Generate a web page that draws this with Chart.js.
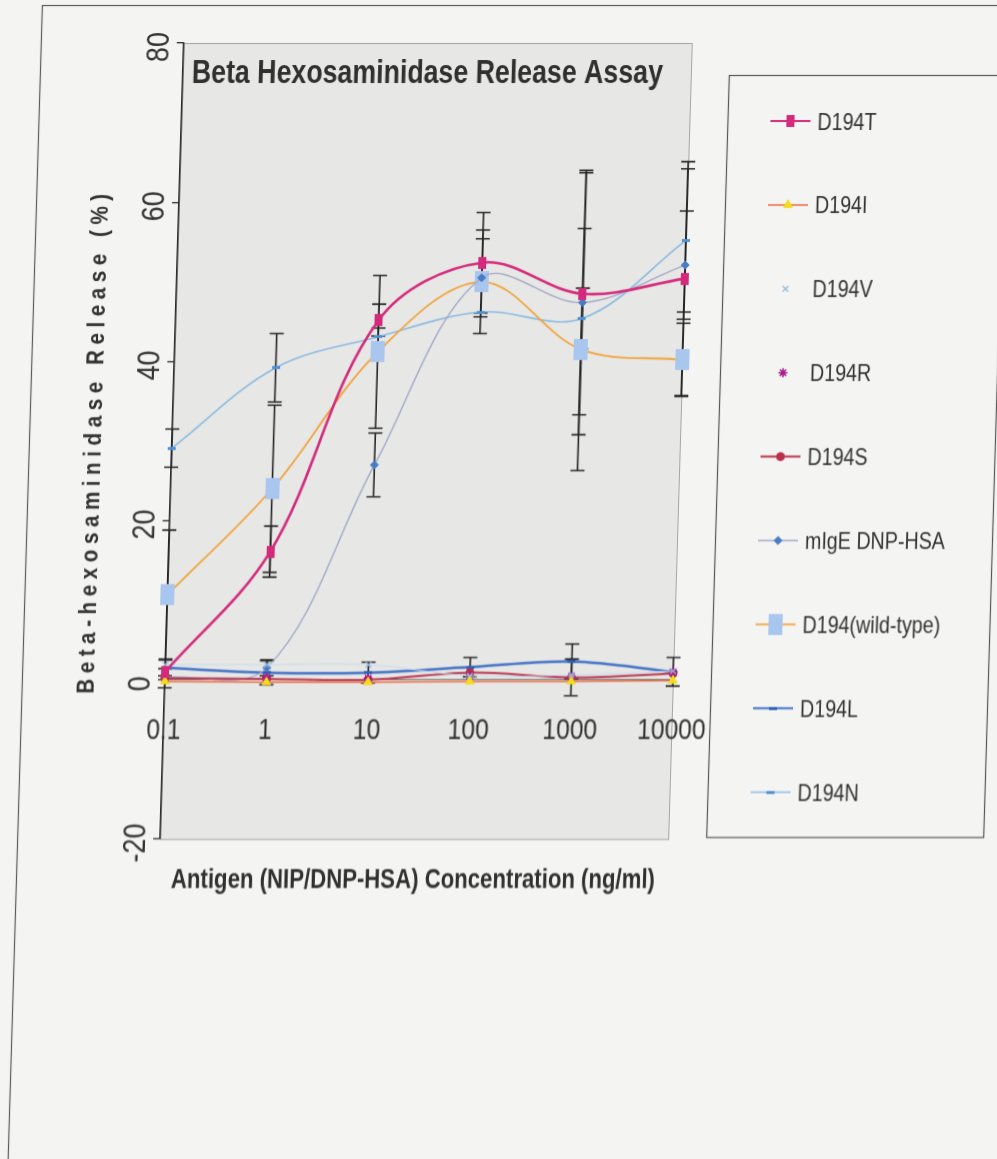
<!DOCTYPE html>
<html><head><meta charset="utf-8">
<script src="https://cdn.jsdelivr.net/npm/chart.js@4/dist/chart.umd.min.js"></script>
<style>
html,body{margin:0;padding:0;background:#f4f4f2;overflow:hidden;}
#wrap{width:997px;height:1159px;overflow:hidden;}
canvas{display:block;transform:skewX(-1.7deg);transform-origin:498px 440px;}
</style></head><body>
<div id="wrap"><canvas id="c" width="997" height="1159"></canvas></div>
<script>
// ---- data ----
const concentrations = [0.1, 1, 10, 100, 1000, 10000];
const xTickLabels = ['0.1', '1', '10', '100', '1000', '10000'];
const yTickValues = [80, 60, 40, 20, 0, -20];
const yTickLabels = ['80', '60', '40', '20', '0', '-20'];
const seriesNames = ['D194T', 'D194I', 'D194V', 'D194R', 'D194S', 'mIgE DNP-HSA', 'D194(wild-type)', 'D194L', 'D194N'];
const chartTitle = 'Beta Hexosaminidase Release Assay';
const xTitle = 'Antigen (NIP/DNP-HSA) Concentration (ng/ml)';
const yTitle = 'Beta-hexosaminidase Release (%)';

const d194T    = [1.0, 16.1, 45.2, 52.4, 48.5, 50.4];
const d194I    = [-0.2, -0.3, -0.3, -0.2, -0.2, -0.1];
const d194V    = [1.9, 1.9, 1.9, 0.5, 0.6, 1.1];
const d194R    = [0.6, 0.3, 0.2, 0.5, 0.4, 1.0];
const d194S    = [0.2, 0.1, 0.0, 0.9, 0.3, 0.8];
const mIgE     = [0.3, 1.5, 27.0, 50.5, 47.4, 52.1];
const wildType = [10.7, 24.0, 41.2, 50.0, 41.5, 40.2];
const d194L    = [1.5, 0.9, 0.9, 1.6, 2.3, 1.0];
const d194N    = [29.1, 39.2, 43.1, 46.2, 45.4, 55.2];

// error bars (+/-)
const errT   = [0, 3.2, 2.0, 6.3, 15.2, 14.7];
const errWT  = [8.1, 10.5, 9.6, 6.5, 15.2, 4.6];
const errIgE = [0, 1.0, 4.0, 4.9, 16.6, 6.8];
const errN   = [2.4, 4.3, 1.1, 0, 3.8, 9.0];
const errL   = [1.0, 1.5, 1.3, 1.2, 2.2, 1.8];
const errS   = [1.2, 0, 0, 0, 2.3, 0];

// ---- styles ----
function rectImg(w, h, fill) {
  const c = document.createElement('canvas');
  c.width = w; c.height = h;
  const g = c.getContext('2d');
  g.fillStyle = fill; g.fillRect(0, 0, w, h);
  return c;
}
const pts = (arr) => concentrations.map((x, i) => ({x: x, y: arr[i]}));

function ds(label, arr, o) {
  return Object.assign({
    label: label, data: pts(arr), clip: false, tension: 0.35,
    fill: false, pointRadius: 4, pointBorderWidth: 1, pointHoverRadius: 4
  }, o);
}

const datasets = [
  ds(seriesNames[0], d194T, {borderColor: '#d42a7c', borderWidth: 2.6, pointStyle: rectImg(8, 12, '#d42a7c'), pointBackgroundColor: '#d42a7c', pointBorderColor: '#d42a7c', err: errT}),
  ds(seriesNames[1], d194I, {borderColor: '#ee6a3c', borderWidth: 1.5, pointStyle: 'triangle', pointRadius: 5, pointBackgroundColor: '#f4dc1c', pointBorderColor: '#f4dc1c'}),
  ds(seriesNames[2], d194V, {borderColor: '#c9dcef', borderWidth: 1, pointStyle: 'crossRot', pointRadius: 4, pointBorderWidth: 1.3, pointBackgroundColor: '#8fb8dc', pointBorderColor: '#8fb8dc', legendLine: false}),
  ds(seriesNames[3], d194R, {showLine: false, borderColor: '#a8208c', pointStyle: 'star', pointRadius: 4.5, pointBorderWidth: 1.6, pointBackgroundColor: '#a8208c', pointBorderColor: '#a8208c', legendLine: false}),
  ds(seriesNames[4], d194S, {borderColor: '#b8304c', borderWidth: 2, pointStyle: 'circle', pointRadius: 4, pointBackgroundColor: '#b8304c', pointBorderColor: '#b8304c', err: errS}),
  ds(seriesNames[5], mIgE, {borderColor: '#a3a9c9', borderWidth: 1.4, pointStyle: 'rectRot', pointRadius: 4, pointBackgroundColor: '#4a7cc4', pointBorderColor: '#4a7cc4', err: errIgE}),
  ds(seriesNames[6], wildType, {borderColor: '#f2a43a', borderWidth: 1.8, pointStyle: rectImg(14, 21, '#a9c6ee'), pointBackgroundColor: '#a9c6ee', pointBorderColor: '#a9c6ee', err: errWT}),
  ds(seriesNames[7], d194L, {borderColor: '#3f6fc6', borderWidth: 2.5, pointStyle: rectImg(8, 3, '#2f5fb6'), pointBackgroundColor: '#2f5fb6', pointBorderColor: '#2f5fb6', err: errL}),
  ds(seriesNames[8], d194N, {borderColor: '#8cbbe2', borderWidth: 1.6, pointStyle: rectImg(8, 3, '#4f92d2'), pointBackgroundColor: '#4f92d2', pointBorderColor: '#4f92d2', err: errN})
];

// ---- helpers ----
const NARROW = 0.82;
function drawText(ctx, text, x, y, o) {
  ctx.save();
  ctx.font = o.font;
  ctx.fillStyle = o.color || '#333';
  ctx.textBaseline = 'alphabetic';
  ctx.textAlign = 'left';
  if ('letterSpacing' in ctx) ctx.letterSpacing = (o.spacing || 0) + 'px';
  let w = ctx.measureText(text).width;
  let sx = o.hscale || 1;
  if (o.targetWidth) sx = o.targetWidth / w;
  ctx.translate(x, y);
  if (o.rotate) ctx.rotate(o.rotate);
  ctx.scale(sx, 1);
  const off = o.align === 'center' ? -w / 2 : (o.align === 'right' ? -w : 0);
  ctx.fillText(text, off, o.dy || 0);
  ctx.restore();
}

function drawMarker(ctx, d, x, y) {
  ctx.save();
  ctx.fillStyle = d.pointBackgroundColor;
  ctx.strokeStyle = d.pointBorderColor;
  ctx.lineWidth = d.pointBorderWidth || 1;
  if (Chart.helpers && Chart.helpers.drawPoint) {
    Chart.helpers.drawPoint(ctx, {pointStyle: d.pointStyle, radius: d.pointRadius, borderWidth: d.pointBorderWidth || 1, rotation: 0}, x, y);
  } else if (d.pointStyle instanceof HTMLCanvasElement) {
    ctx.drawImage(d.pointStyle, x - d.pointStyle.width / 2, y - d.pointStyle.height / 2);
  } else {
    ctx.beginPath(); ctx.arc(x, y, d.pointRadius, 0, Math.PI * 2); ctx.fill();
  }
  ctx.restore();
}

// ---- plugins ----
const backgroundPlugin = {
  id: 'bg',
  beforeDraw(chart) {
    const ctx = chart.ctx, a = chart.chartArea;
    ctx.save();
    ctx.fillStyle = '#f4f4f2';
    ctx.fillRect(0, 0, chart.width, chart.height);
    // outer frame
    ctx.strokeStyle = '#5a5a5a'; ctx.lineWidth = 1.2;
    ctx.strokeRect(29.5, 5.5, 1000, 1200);
    // plot area
    ctx.fillStyle = '#e7e7e5';
    ctx.fillRect(a.left, a.top, a.right - a.left, a.bottom - a.top);
    ctx.strokeStyle = '#a6a6a6'; ctx.lineWidth = 1;
    ctx.strokeRect(a.left + 0.5, a.top + 0.5, a.right - a.left, a.bottom - a.top);
    ctx.restore();
  }
};

const errorBarPlugin = {
  id: 'errbars',
  beforeDatasetsDraw(chart) {
    const ctx = chart.ctx, xs = chart.scales.x, ys = chart.scales.y;
    ctx.save();
    ctx.strokeStyle = '#262626'; ctx.lineWidth = 1.6;
    chart.data.datasets.forEach(d => {
      if (!d.err) return;
      d.data.forEach((p, i) => {
        const e = d.err[i];
        if (!e) return;
        const x = xs.getPixelForValue(p.x);
        const y1 = ys.getPixelForValue(p.y + e), y2 = ys.getPixelForValue(p.y - e);
        ctx.beginPath();
        ctx.moveTo(x, y1); ctx.lineTo(x, y2);
        ctx.moveTo(x - 7, y1); ctx.lineTo(x + 7, y1);
        ctx.moveTo(x - 7, y2); ctx.lineTo(x + 7, y2);
        ctx.stroke();
      });
    });
    ctx.restore();
  }
};

const textPlugin = {
  id: 'texts',
  afterDraw(chart) {
    const ctx = chart.ctx, xs = chart.scales.x, ys = chart.scales.y, a = chart.chartArea;
    const FONT = "'Liberation Sans', Arial, sans-serif";
    // chart title
    drawText(ctx, chartTitle, 181, 83, {font: 'bold 33px ' + FONT, color: '#303030', targetWidth: 471});
    // x title
    drawText(ctx, xTitle, (a.left + a.right) / 2, 888, {font: 'bold 27px ' + FONT, color: '#303030', targetWidth: 484, align: 'center'});
    // y title (rotated, letter spaced)
    ctx.save();
    ctx.font = 'bold 23px ' + FONT;
    const baseW = ctx.measureText(yTitle).width * 0.9;
    ctx.restore();
    const sp = Math.max(0, (500 - baseW) / (yTitle.length - 1));
    drawText(ctx, yTitle, 101, (a.top + a.bottom) / 2, {font: 'bold 23px ' + FONT, color: '#303030', rotate: -Math.PI / 2, align: 'center', hscale: 0.9, spacing: sp / 0.9});
    // x tick labels
    xs.ticks.forEach((t, i) => {
      const x = xs.getPixelForValue(t.value);
      drawText(ctx, xTickLabels[i], x, 739, {font: '30px ' + FONT, color: '#333', hscale: NARROW, align: 'center'});
    });
    // y tick labels (rotated)
    ys.ticks.forEach((t) => {
      const y = ys.getPixelForValue(t.value);
      const idx = yTickValues.indexOf(t.value);
      drawText(ctx, yTickLabels[idx], 157, y + 4, {font: '32px ' + FONT, color: '#333', hscale: 0.84, align: 'center', rotate: -Math.PI / 2});
    });
    // legend
    ctx.save();
    ctx.strokeStyle = '#555'; ctx.lineWidth = 1.2;
    ctx.strokeRect(718.5, 75.5, 277, 762);
    ctx.restore();
    chart.data.datasets.forEach((d, i) => {
      const y = 121 + i * 83.9;
      if (d.legendLine !== false) {
        ctx.save();
        ctx.strokeStyle = d.borderColor; ctx.lineWidth = Math.min(d.borderWidth, 2);
        ctx.beginPath(); ctx.moveTo(761, y); ctx.lineTo(801, y); ctx.stroke();
        ctx.restore();
      }
      drawMarker(ctx, d, 781, y);
      drawText(ctx, d.label, 808, y + 8.5, {font: '24px ' + FONT, color: '#333', hscale: NARROW});
    });
  }
};

new Chart(document.getElementById('c'), {
  type: 'line',
  data: {datasets: datasets},
  options: {
    responsive: false, animation: false, devicePixelRatio: 1,
    layout: {padding: {left: 165, right: 317, top: 43, bottom: 320}},
    plugins: {legend: {display: false}, tooltip: {enabled: false}, title: {display: false}},
    elements: {line: {cubicInterpolationMode: 'default'}},
    scales: {
      x: {
        type: 'logarithmic', min: 0.1, max: 10000, position: {y: 0},
        afterBuildTicks: (s) => { s.ticks = concentrations.map(v => ({value: v})); },
        ticks: {display: false},
        grid: {display: false},
        border: {display: true, color: '#6a6a6a', width: 1}
      },
      y: {
        type: 'linear', min: -20, max: 80,
        afterBuildTicks: (s) => { s.ticks = yTickValues.map(v => ({value: v})); },
        ticks: {display: false},
        grid: {display: true, drawOnChartArea: false, drawTicks: true, tickLength: 7, color: '#2a2a2a', lineWidth: 1.3},
        border: {display: true, color: '#2a2a2a', width: 1.5}
      }
    }
  },
  plugins: [backgroundPlugin, errorBarPlugin, textPlugin]
});
</script>
</body></html>
